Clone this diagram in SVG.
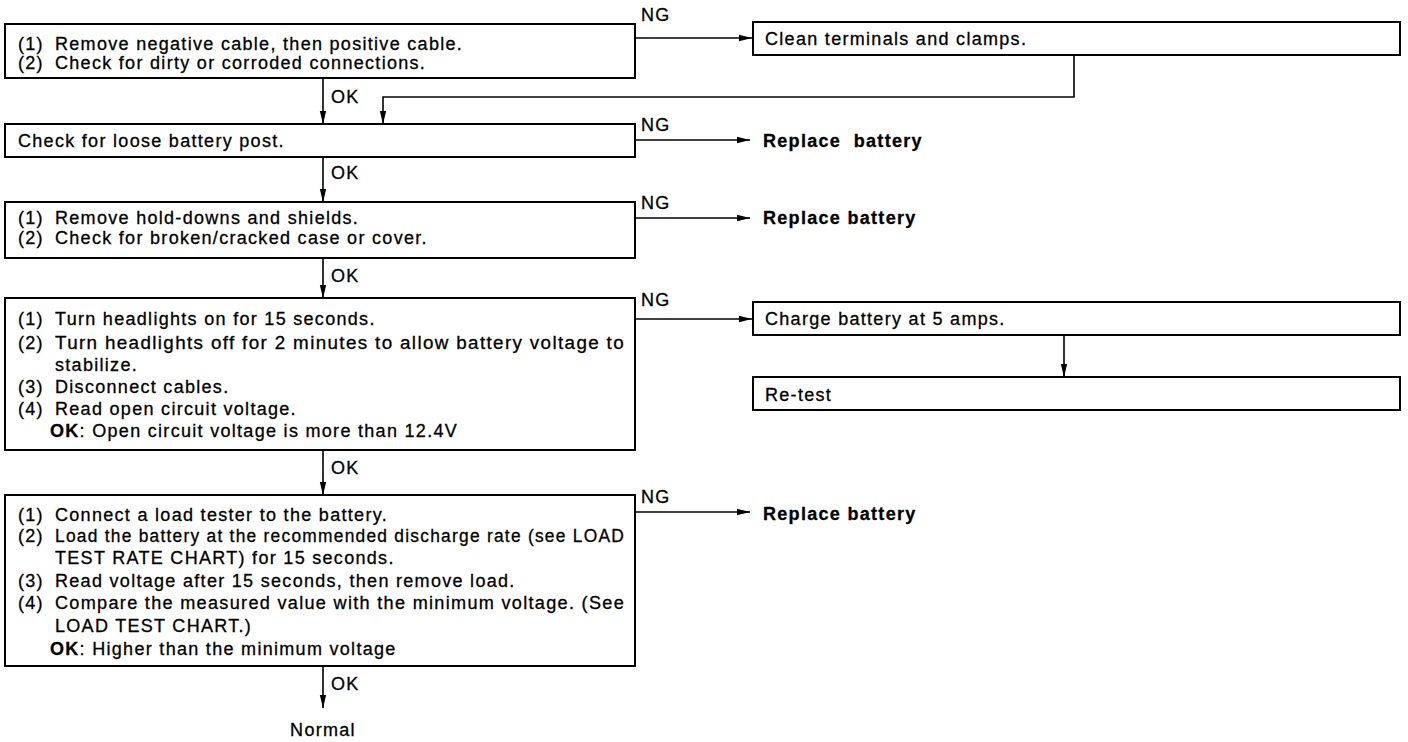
<svg xmlns="http://www.w3.org/2000/svg" width="1408" height="742" viewBox="0 0 1408 742">
<defs>
<marker id="ah" markerUnits="userSpaceOnUse" markerWidth="14" markerHeight="8" refX="13" refY="4" orient="auto">
<path d="M0,0.8 L13,4 L0,7.2 Z" fill="#000"/>
</marker>
<style>
.box{fill:#fff;stroke:#000;stroke-width:2}
.ln{fill:none;stroke:#000;stroke-width:1.6}
text{font-family:"Liberation Sans",Arial,sans-serif;font-size:18px;letter-spacing:1.3px;fill:#000;stroke:#000;stroke-width:0.3}
.b{font-weight:bold}
.pre{white-space:pre}
</style>
</defs>
<rect width="1408" height="742" fill="#fff"/>

<g id="connectors">
<line class="ln" x1="635" y1="38" x2="752" y2="38" marker-end="url(#ah)"/>
<polyline class="ln" points="1074,55 1074,97 383,97 383,124" marker-end="url(#ah)"/>
<line class="ln" x1="323" y1="78" x2="323" y2="124" marker-end="url(#ah)"/>
<line class="ln" x1="635" y1="140" x2="750" y2="140" marker-end="url(#ah)"/>
<line class="ln" x1="323" y1="157" x2="323" y2="202" marker-end="url(#ah)"/>
<line class="ln" x1="635" y1="218" x2="750" y2="218" marker-end="url(#ah)"/>
<line class="ln" x1="323" y1="258" x2="323" y2="298" marker-end="url(#ah)"/>
<line class="ln" x1="635" y1="319" x2="752" y2="319" marker-end="url(#ah)"/>
<line class="ln" x1="1064" y1="335" x2="1064" y2="377" marker-end="url(#ah)"/>
<line class="ln" x1="323" y1="450" x2="323" y2="495" marker-end="url(#ah)"/>
<line class="ln" x1="635" y1="512" x2="750" y2="512" marker-end="url(#ah)"/>
<line class="ln" x1="323" y1="666" x2="323" y2="708" marker-end="url(#ah)"/>
<text x="641" y="21">NG</text>
<text x="641" y="131">NG</text>
<text x="641" y="209">NG</text>
<text x="641" y="306">NG</text>
<text x="641" y="503">NG</text>
<text x="331" y="103">OK</text>
<text x="331" y="179">OK</text>
<text x="331" y="282">OK</text>
<text x="331" y="474">OK</text>
<text x="331" y="690">OK</text>
</g>

<g id="n1">
<rect class="box" x="5" y="24" width="630" height="54"/>
<text x="18" y="50">(1)</text><text x="55" y="50">Remove negative cable, then positive cable.</text>
<text x="18" y="69">(2)</text><text x="55" y="69">Check for dirty or corroded connections.</text>
</g>

<g id="n2">
<rect class="box" x="753" y="22" width="647" height="33"/>
<text x="765" y="45">Clean terminals and clamps.</text>
</g>

<g id="n3">
<rect class="box" x="5" y="124" width="630" height="33"/>
<text x="18" y="147">Check for loose battery post.</text>
</g>

<g id="n4">
<text class="b pre" x="763" y="147">Replace  battery</text>
</g>

<g id="n5">
<rect class="box" x="5" y="202" width="630" height="56"/>
<text x="18" y="224">(1)</text><text x="55" y="224">Remove hold-downs and shields.</text>
<text x="18" y="244">(2)</text><text x="55" y="244">Check for broken/cracked case or cover.</text>
</g>

<g id="n6">
<text class="b" x="763" y="224">Replace battery</text>
</g>

<g id="n7">
<rect class="box" x="5" y="298" width="630" height="152"/>
<text x="18" y="325">(1)</text><text x="55" y="325">Turn headlights on for 15 seconds.</text>
<text x="18" y="349">(2)</text><text x="55" y="349" textLength="570" lengthAdjust="spacingAndGlyphs">Turn headlights off for 2 minutes to allow battery voltage to</text>
<text x="55" y="371">stabilize.</text>
<text x="18" y="393">(3)</text><text x="55" y="393">Disconnect cables.</text>
<text x="18" y="415">(4)</text><text x="55" y="415">Read open circuit voltage.</text>
<text x="50" y="437"><tspan class="b">OK</tspan>: Open circuit voltage is more than 12.4V</text>
</g>

<g id="n8">
<rect class="box" x="753" y="302" width="647" height="33"/>
<text x="765" y="325">Charge battery at 5 amps.</text>
</g>

<g id="n9">
<rect class="box" x="753" y="377" width="647" height="33"/>
<text x="765" y="401">Re-test</text>
</g>

<g id="n10">
<rect class="box" x="5" y="495" width="630" height="171"/>
<text x="18" y="521">(1)</text><text x="55" y="521">Connect a load tester to the battery.</text>
<text x="18" y="542">(2)</text><text x="55" y="542" textLength="570" lengthAdjust="spacingAndGlyphs">Load the battery at the recommended discharge rate (see LOAD</text>
<text x="55" y="564">TEST RATE CHART) for 15 seconds.</text>
<text x="18" y="587">(3)</text><text x="55" y="587">Read voltage after 15 seconds, then remove load.</text>
<text x="18" y="609">(4)</text><text x="55" y="609" textLength="570" lengthAdjust="spacingAndGlyphs">Compare the measured value with the minimum voltage. (See</text>
<text x="55" y="632">LOAD TEST CHART.)</text>
<text x="50" y="655"><tspan class="b">OK</tspan>: Higher than the minimum voltage</text>
</g>

<g id="n11">
<text class="b" x="763" y="520">Replace battery</text>
</g>

<g id="n12">
<text x="323" y="736" text-anchor="middle">Normal</text>
</g>
</svg>
